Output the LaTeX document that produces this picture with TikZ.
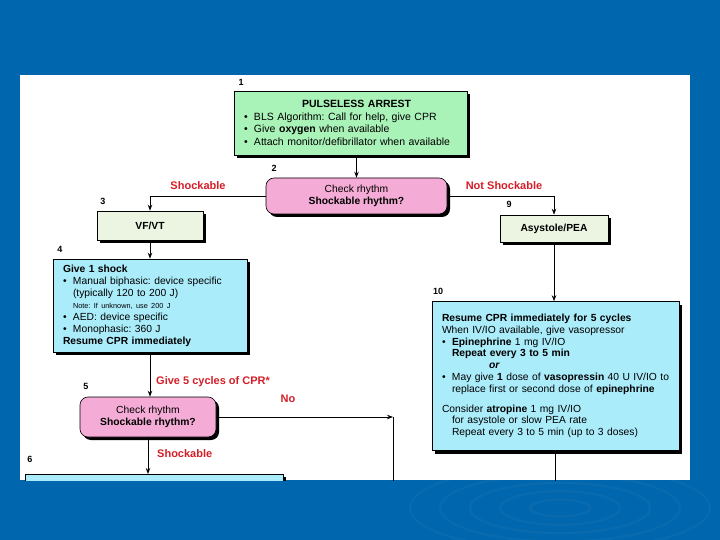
\documentclass[tikz,border=0pt]{standalone}
\usepackage{fontspec}
\setmainfont{Liberation Sans}
\usetikzlibrary{arrows.meta,shadows}
\definecolor{bgblue}{RGB}{0,102,173}
\definecolor{boxgreen}{RGB}{170,243,184}
\definecolor{boxpink}{RGB}{244,172,214}
\definecolor{boxpale}{RGB}{236,245,226}
\definecolor{boxcyan}{RGB}{170,236,250}
\definecolor{lblred}{RGB}{212,30,40}
\newcommand\mybul{\makebox[10pt][l]{•}}
\frenchspacing
\begin{document}
\begin{tikzpicture}[x=1pt,y=-1pt,
  box/.style={draw=black, line width=0.6pt, inner sep=0pt,
    drop shadow={shadow xshift=3pt,shadow yshift=-3pt,fill=black,opacity=1}},
  rbox/.style={box, rounded corners=8pt, fill=boxpink, align=center,
    font=\fontsize{10.3}{12}\selectfont},
  num/.style={font=\fontsize{9}{10}\selectfont\bfseries, inner sep=0pt},
  lbl/.style={font=\fontsize{11}{12}\selectfont\bfseries, text=lblred, inner sep=0pt},
  conn/.style={line width=0.9pt},
  arr/.style={conn, -{Stealth[length=6pt,width=4.5pt]}},
]
\useasboundingbox (0,0) rectangle (720,540);
\fill[bgblue] (0,0) rectangle (720,540);
\foreach \r in {30,60,...,150}
  \draw[white,opacity=0.035,line width=2.5pt] (560,508) ellipse ({\r} and {0.28*\r});
\fill[white] (20,75) rectangle (690,480);
\begin{scope}
\clip (20,75) rectangle (690,480);
% boxes
\node[box, fill=boxgreen, minimum width=233pt, minimum height=64pt, text width=213pt,
  align=left, font=\fontsize{10.5}{12.5}\selectfont] (b1) at (350.5,123)
  {\hspace*{58pt}\textbf{PULSELESS ARREST}\\
   \mybul BLS Algorithm: Call for help, give CPR\\
   \mybul Give \textbf{oxygen} when available\\
   \mybul Attach monitor/defibrillator when available};
\node[rbox, minimum width=181pt, minimum height=36pt] (b2) at (356.5,196)
  {Check rhythm\\\textbf{Shockable rhythm?}};
\node[box, fill=boxpale, minimum width=106pt, minimum height=29pt,
  font=\fontsize{10.3}{12}\selectfont\bfseries] (b3) at (150,225.5) {VF/VT};
\node[box, fill=boxpale, minimum width=108pt, minimum height=27pt,
  font=\fontsize{10.3}{12}\selectfont\bfseries] (b9) at (554,228.5) {Asystole/PEA};
\node[box, fill=boxcyan, minimum width=194pt, minimum height=93pt, text width=174pt,
  align=left, font=\fontsize{10.3}{12}\selectfont] (b4) at (150,305.5)
  {\textbf{Give 1 shock}\\
   \mybul Manual biphasic: device specific\\
   \hspace*{10pt}(typically 120 to 200 J)\\
   \hspace*{10pt}{\fontsize{7.3}{8}\selectfont Note: If unknown, use 200 J}\\
   \mybul AED: device specific\\
   \mybul Monophasic: 360 J\\
   \textbf{Resume CPR immediately}};
\node[rbox, minimum width=136pt, minimum height=40pt] (b5) at (148,417)
  {Check rhythm\\\textbf{Shockable rhythm?}};
\node[box, fill=boxcyan, minimum width=258pt, minimum height=40pt, anchor=north west]
  (b6) at (25,474) {};
\node[box, fill=boxcyan, minimum width=247pt, minimum height=149pt, text width=227pt,
  align=left, font=\fontsize{10.3}{11.8}\selectfont] (b10) at (555.5,376)
  {\textbf{Resume CPR immediately for 5 cycles}\\
   When IV/IO available, give vasopressor\\
   \mybul\textbf{Epinephrine} 1 mg IV/IO\\
   \hspace*{10pt}\textbf{Repeat every 3 to 5 min}\\
   \hspace*{47pt}\textbf{\textit{or}}\\
   \mybul May give \textbf{1} dose of \textbf{vasopressin} 40 U IV/IO to\\
   \hspace*{10pt}replace first or second dose of \textbf{epinephrine}\\[8pt]
   Consider \textbf{atropine} 1 mg IV/IO\\
   \hspace*{10pt}for asystole or slow PEA rate\\
   \hspace*{10pt}Repeat every 3 to 5 min (up to 3 doses)};
% numbers
\node[num] (n1) at (241,82) {1};
\node[num] (n2) at (274,168) {2};
\node[num] (n3) at (103,201) {3};
\node[num] (n4) at (60,249) {4};
\node[num] (n5) at (86,386) {5};
\node[num] (n6) at (30,459) {6};
\node[num] (n9) at (509,204) {9};
\node[num] (n10) at (438,291) {10};
% red labels
\node[lbl] (l1) at (198,186) {Shockable};
\node[lbl] (l2) at (504,186) {Not Shockable};
\node[lbl, anchor=west] (l3) at (156,382) {Give 5 cycles of CPR*};
\node[lbl] (l4) at (288,399) {No};
\node[lbl, anchor=west] (l5) at (157,454) {Shockable};
% connectors
\coordinate (j) at (393,417);
\coordinate (jb) at (393,495);
\coordinate (e10) at (555.5,495);
\draw[arr] (b2.north |- b1.south) -- (b2.north);
\draw[arr] (b2.west) -| (b3.north);
\draw[arr] (b2.east) -| (b9.north);
\draw[arr] (b3.south) -- (b4.north);
\draw[arr] (b9.south) -- (b9.south |- b10.north);
\draw[arr] (b4.south) -- (b4.south |- b5.north);
\draw[arr] (b5.east) -- (j);
\draw[conn] (j) -- (jb);
\draw[arr] (b5.south) -- (b5.south |- b6.north);
\draw[conn] (b10.south) -- (e10);
\end{scope}
\end{tikzpicture}
\end{document}
